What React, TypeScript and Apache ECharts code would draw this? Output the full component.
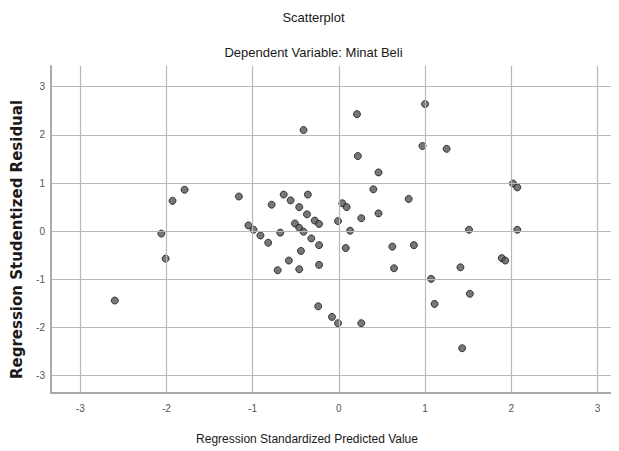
import React, { useEffect, useRef } from "react";
import * as echarts from "echarts";

const titleText = "Scatterplot";
const subtitleText = "Dependent Variable: Minat Beli";
const xAxisName = "Regression Standardized Predicted Value";
const yAxisName = "Regression Studentized Residual";
const tickValues = [-3, -2, -1, 0, 1, 2, 3];

const predicted = [
  -0.41, -1.79, -1.93, -1.16, -0.64, -0.56, -0.36, -0.78, -0.46, -0.37,
  -0.28, -0.23, -0.01, -1.05, -0.99, -0.91, -0.82, -0.68, -0.51, -0.46,
  -0.41, -0.32, -2.06, -2.01, -2.6, -0.23, -0.44, -0.58, -0.46, -0.23,
  -0.71, -0.24, -0.08, -0.01, 0.21, 1.0, 0.97, 1.25, 0.22, 0.46,
  0.4, 0.81, 2.02, 2.07, 0.04, 0.09, 0.46, 0.26, 0.13, 1.51,
  2.07, 0.08, 0.62, 0.87, 0.64, 1.41, 1.89, 1.93, 1.07, 1.52,
  1.11, 0.26, 1.43,
];
const residual = [
  2.1, 0.86, 0.63, 0.72, 0.76, 0.64, 0.76, 0.55, 0.5, 0.35,
  0.22, 0.15, 0.21, 0.12, 0.03, -0.09, -0.24, -0.03, 0.16, 0.07,
  -0.01, -0.15, -0.05, -0.57, -1.44, -0.29, -0.41, -0.61, -0.79, -0.7,
  -0.81, -1.56, -1.78, -1.91, 2.43, 2.64, 1.77, 1.71, 1.56, 1.22,
  0.87, 0.67, 0.99, 0.91, 0.58, 0.5, 0.37, 0.27, 0.01, 0.03,
  0.03, -0.35, -0.32, -0.29, -0.77, -0.75, -0.56, -0.61, -0.99, -1.3,
  -1.51, -1.91, -2.43,
];

const FONT = "'Liberation Sans Narrow', 'Liberation Sans', Arial, sans-serif";

export default function App() {
  const ref = useRef<HTMLDivElement>(null);
  useEffect(() => {
    if (!ref.current) return;
    const chart = echarts.init(ref.current, null, { renderer: "svg" });
    const points = predicted.map((x, i) => [x, residual[i]]);
    const gridColor = "#b8b8b8";
    chart.setOption({
      animation: false,
      backgroundColor: "#ffffff",
      title: [
        {
          text: titleText,
          left: "center",
          top: 3,
          padding: 0,
          textStyle: { fontFamily: FONT, fontSize: 13, fontWeight: "normal", color: "#1a1a1a" },
        },
        {
          text: subtitleText,
          left: "center",
          top: 38,
          padding: 0,
          textStyle: { fontFamily: FONT, fontSize: 13, fontWeight: "normal", color: "#1a1a1a" },
        },
      ],
      grid: { left: 43, right: 0, top: 58, bottom: 58, containLabel: false, outerBoundsMode: "none" },
      xAxis: {
        type: "value",
        min: -3.34,
        max: 3.25,
        name: xAxisName,
        nameLocation: "middle",
        nameGap: 40,
        nameTextStyle: { fontFamily: FONT, fontSize: 12, color: "#1a1a1a", padding: [0, 56, 0, 0] },
        axisLine: { show: true, onZero: false, lineStyle: { color: "#a8a8a8", width: 2 } },
        axisTick: { show: false },
        splitLine: { show: false },
        axisLabel: {
          customValues: tickValues,
          fontFamily: FONT,
          fontSize: 10,
          color: "#555",
          margin: 10,
          formatter: (v: number) => String(v),
        },
      },
      yAxis: {
        type: "value",
        min: -3.36,
        max: 3.43,
        name: yAxisName,
        nameLocation: "middle",
        nameGap: 27,
        nameRotate: 90,
        nameTextStyle: {
          fontFamily: "'DejaVu Sans', sans-serif",
          fontSize: 15,
          fontWeight: "bold",
          color: "#1a1a1a",
          padding: [0, 20, 0, 0],
        },
        axisLine: { show: true, onZero: false, lineStyle: { color: "#a8a8a8", width: 2 } },
        axisTick: { show: false },
        splitLine: { show: false },
        axisLabel: {
          customValues: tickValues,
          fontFamily: FONT,
          fontSize: 10,
          color: "#555",
          margin: 6,
          formatter: (v: number) => String(v),
        },
      },
      series: [
        {
          type: "scatter",
          data: [],
          z: 1,
          silent: true,
          markLine: {
            silent: true,
            symbol: ["none", "none"],
            label: { show: false },
            lineStyle: { type: "solid", color: gridColor, width: 1.2 },
            data: [
              ...tickValues.map((v) => ({ xAxis: v })),
              ...tickValues.map((v) => ({ yAxis: v })),
            ],
          },
        },
        {
          type: "scatter",
          z: 3,
          symbol: "circle",
          symbolSize: 7,
          itemStyle: { color: "#555555", borderColor: "#1a1a1a", borderWidth: 1 },
          data: points,
        },
      ],
    });
    return () => chart.dispose();
  }, []);
  return <div ref={ref} style={{ width: 611, height: 443 }} />;
}
